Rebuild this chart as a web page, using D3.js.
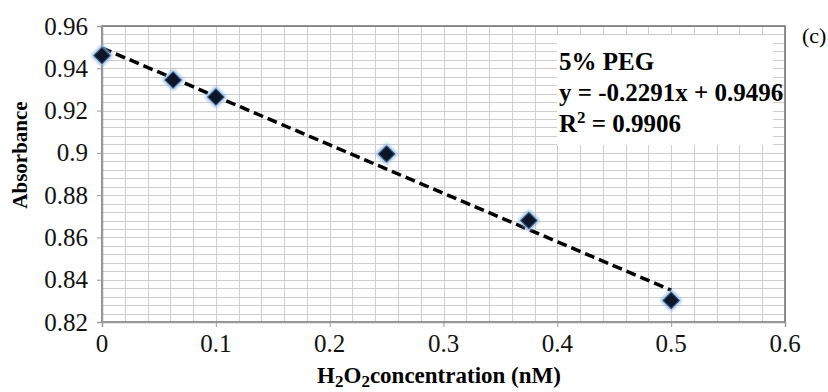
<!DOCTYPE html>
<html>
<head>
<meta charset="utf-8">
<script src="https://cdn.jsdelivr.net/npm/d3@7/dist/d3.min.js"></script>
<style>
    body { margin: 0; background: #fff; }
    svg { display: block; }
</style>
</head>
<body>
<svg id="chart" width="828" height="392"></svg>
<script>
// Data
var concentration = [0, 0.0625, 0.1, 0.25, 0.375, 0.5];
var absorbance = [0.946, 0.9345, 0.9264, 0.8995, 0.868, 0.8302];
var xTicks = [0, 0.1, 0.2, 0.3, 0.4, 0.5, 0.6];
var xTickLabels = ["0", "0.1", "0.2", "0.3", "0.4", "0.5", "0.6"];
var yTicks = [0.82, 0.84, 0.86, 0.88, 0.9, 0.92, 0.94, 0.96];
var yTickLabels = ["0.82", "0.84", "0.86", "0.88", "0.9", "0.92", "0.94", "0.96"];
var fitSlope = -0.2291;
var fitIntercept = 0.9496;
var fitRange = [0, 0.5];
var seriesName = "5% PEG";
var fitText = "y = -0.2291x + 0.9496";
var r2Value = "0.9906";
var panelLabel = "(c)";

var width = 828,
    height = 392;

var margin = {
    left: 102,
    right: 43,
    top: 26,
    bottom: 70
};

var serif = "Liberation Serif";

var svg = d3.select("svg#chart")
    .attr("font-family", serif);

var xScale = d3.scaleLinear()
    .domain([0, 0.6])
    .range([margin.left, width - margin.right]);

var yScale = d3.scaleLinear()
    .domain([0.82, 0.96])
    .range([height - margin.bottom, margin.top]);

// Gridlines: vertical every 0.02, horizontal every 0.004
var gridColor = "#cdcdcd";
var xGrid = d3.range(0, 0.6001, 0.02);
var yGrid = d3.range(0.82, 0.96001, 0.004);

svg.append("g")
    .selectAll("line")
    .data(xGrid)
    .enter()
    .append("line")
    .attr("x1", d => Math.round(xScale(d)) + 0.5)
    .attr("x2", d => Math.round(xScale(d)) + 0.5)
    .attr("y1", yScale(0.96))
    .attr("y2", yScale(0.82))
    .style("stroke", gridColor)
    .style("stroke-width", 1);

svg.append("g")
    .selectAll("line")
    .data(yGrid)
    .enter()
    .append("line")
    .attr("x1", xScale(0))
    .attr("x2", xScale(0.6))
    .attr("y1", d => Math.round(yScale(d)) + 0.5)
    .attr("y2", d => Math.round(yScale(d)) + 0.5)
    .style("stroke", gridColor)
    .style("stroke-width", 1);

// Plot area border (top / right darker)
svg.append("rect")
    .attr("x", xScale(0))
    .attr("y", yScale(0.96))
    .attr("width", xScale(0.6) - xScale(0))
    .attr("height", yScale(0.82) - yScale(0.96))
    .style("fill", "none")
    .style("stroke", "#6e6e6e")
    .style("stroke-width", 1.5);

// Axes: tick marks from d3.axis, labels written separately
var yAxisG = svg.append("g")
    .attr("transform", "translate(" + xScale(0) + ",0)")
    .call(d3.axisLeft(yScale).tickValues(yTicks).tickSize(5).tickFormat(""));

var xAxisG = svg.append("g")
    .attr("transform", "translate(0," + yScale(0.82) + ")")
    .call(d3.axisBottom(xScale).tickValues(xTicks).tickSize(5).tickFormat(""));

yAxisG.select(".domain").attr("stroke", "#9a9a9a").attr("stroke-width", 1.5);
xAxisG.select(".domain").attr("stroke", "#9a9a9a").attr("stroke-width", 1.5);
svg.selectAll(".tick line").attr("stroke", "#9a9a9a");

svg.append("g")
    .selectAll("text")
    .data(yTicks)
    .enter()
    .append("text")
    .attr("x", xScale(0) - 14)
    .attr("y", d => yScale(d))
    .attr("dy", "0.34em")
    .attr("text-anchor", "end")
    .attr("font-family", serif)
    .attr("font-size", 25)
    .attr("fill", "#111")
    .text((d, i) => yTickLabels[i]);

svg.append("g")
    .selectAll("text")
    .data(xTicks)
    .enter()
    .append("text")
    .attr("x", d => xScale(d))
    .attr("y", yScale(0.82) + 30)
    .attr("text-anchor", "middle")
    .attr("font-family", serif)
    .attr("font-size", 25)
    .attr("fill", "#111")
    .text((d, i) => xTickLabels[i]);

// Trend line
svg.append("line")
    .attr("x1", xScale(fitRange[0]))
    .attr("y1", yScale(fitSlope * fitRange[0] + fitIntercept))
    .attr("x2", xScale(fitRange[1]))
    .attr("y2", yScale(fitSlope * fitRange[1] + fitIntercept))
    .style("stroke", "#000")
    .style("stroke-width", 3.5)
    .style("stroke-dasharray", "10,5");

// Markers: dark diamonds with a soft light-blue rim
var defs = svg.append("defs");
defs.append("filter")
    .attr("id", "glow")
    .attr("x", "-50%").attr("y", "-50%")
    .attr("width", "200%").attr("height", "200%")
    .append("feGaussianBlur")
    .attr("stdDeviation", 1.8);

var points = concentration.map((c, i) => ({ x: c, y: absorbance[i] }));

var diamond = d3.symbol().type(d3.symbolSquare);

var markers = svg.append("g")
    .selectAll("g")
    .data(points)
    .enter()
    .append("g")
    .attr("transform", d => "translate(" + xScale(d.x) + "," + yScale(d.y) + ") rotate(45)");

markers.append("path")
    .attr("d", diamond.size(240))
    .style("fill", "#8db8e4")
    .attr("filter", "url(#glow)");

markers.append("path")
    .attr("d", diamond.size(130))
    .style("fill", "#0c1628")
    .style("stroke", "#35506f")
    .style("stroke-width", 1);

// Legend box with equation
var legendX = 557,
    legendY = 35;

svg.append("rect")
    .attr("x", legendX)
    .attr("y", legendY)
    .attr("width", 216)
    .attr("height", 110)
    .style("fill", "#fff");

var legendText = svg.append("g")
    .attr("font-weight", "bold")
    .attr("font-size", 25)
    .attr("fill", "#000");

legendText.append("text")
    .attr("x", legendX + 2)
    .attr("y", 70)
    .text(seriesName);

legendText.append("text")
    .attr("x", legendX + 2)
    .attr("y", 101)
    .text(fitText);

var r2 = legendText.append("text")
    .attr("x", legendX + 2)
    .attr("y", 132);
r2.append("tspan").text("R");
r2.append("tspan").attr("dy", -9).attr("font-size", 17).text("2");
r2.append("tspan").attr("dy", 9).text(" = " + r2Value);

// Panel label
svg.append("text")
    .attr("x", 802)
    .attr("y", 43)
    .attr("font-size", 22)
    .text(panelLabel);

// Axis titles
var xTitle = svg.append("text")
    .attr("x", 439)
    .attr("y", 383)
    .attr("text-anchor", "middle")
    .attr("font-weight", "bold")
    .attr("font-size", 23);
xTitle.append("tspan").text("H");
xTitle.append("tspan").attr("dy", 4).attr("font-size", 17).text("2");
xTitle.append("tspan").attr("dy", -4).text("O");
xTitle.append("tspan").attr("dy", 4).attr("font-size", 17).text("2");
xTitle.append("tspan").attr("dy", -4).text("concentration (nM)");

svg.append("text")
    .attr("transform", "translate(27,155) rotate(-90)")
    .attr("text-anchor", "middle")
    .attr("font-weight", "bold")
    .attr("font-size", 21)
    .text("Absorbance");
</script>
</body>
</html>
